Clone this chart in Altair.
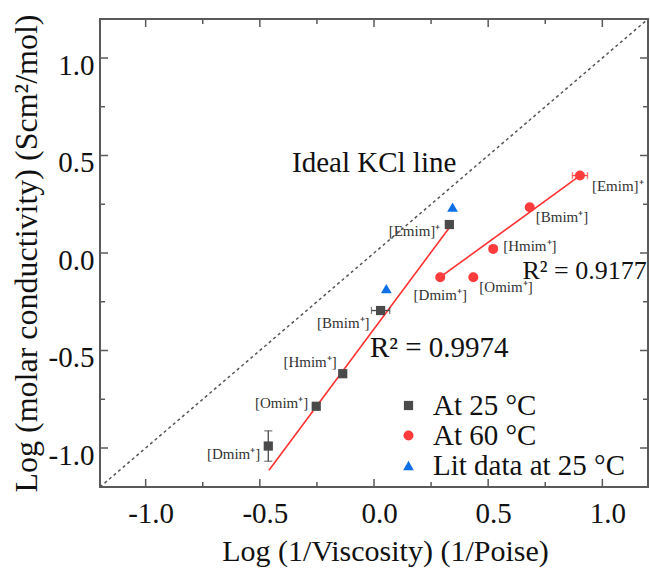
import altair as alt
import pandas as pd

# ---------------- data ----------------
series_names = ["At 25 °C", "At 60 °C", "Lit data at 25 °C"]
series_colors = ["#4a4a4a", "#ff3c3c", "#0f6fe6"]
series_shapes = ["square", "circle", "triangle-up"]

ions = ["Emim", "Bmim", "Hmim", "Omim", "Dmim"]
labels_25 = ["[Emim]⁺", "[Bmim⁺]", "[Hmim⁺]", "[Omim⁺]", "[Dmim⁺]"]
x_25 = [0.330, 0.029, -0.137, -0.253, -0.463]
y_25 = [0.146, -0.295, -0.619, -0.786, -0.990]

labels_60 = ["[Emim]⁺", "[Bmim⁺]", "[Hmim⁺]", "[Omim⁺]", "[Dmim⁺]"]
x_60 = [0.902, 0.682, 0.522, 0.435, 0.290]
y_60 = [0.397, 0.235, 0.021, -0.124, -0.124]

x_lit = [0.344, 0.054]
y_lit = [0.235, -0.183]

fit25_x = [-0.460, 0.337]
fit25_y = [-1.114, 0.141]
fit60_x = [0.290, 0.902]
fit60_y = [-0.124, 0.397]
ideal_x = [-1.2, 1.2]
ideal_y = [-1.2, 1.2]

xerr_series = ["At 25 °C", "At 60 °C"]
xerr_x = [0.029, 0.902]
xerr_y = [-0.295, 0.397]
xerr_v = [0.040, 0.033]

yerr_series = ["At 25 °C"]
yerr_x = [-0.463]
yerr_y = [-0.990]
yerr_v = [0.078]

tick_major = [-1.0, -0.5, 0.0, 0.5, 1.0]
tick_minor = [-0.75, -0.25, 0.25, 0.75]

x_title = "Log (1/Viscosity) (1/Poise)"
y_title = "Log (molar conductivity) (Scm²/mol)"
ideal_text = "Ideal KCl line"
r2_25_text = "R² = 0.9974"
r2_60_text = "R² = 0.9177"

# ---------------- styling ----------------
FONT = "Liberation Serif"
W, H = 548, 468
FRAME = "#5a5a5a"
color_of = dict(zip(series_names, series_colors))

xs = alt.Scale(domain=[-1.2, 1.2], nice=False, zero=False)
ys = alt.Scale(domain=[-1.2, 1.2], nice=False, zero=False)
lab_expr = "(datum.value < 0 ? '-' : '') + format(abs(datum.value), '.1f')"
xaxis = alt.Axis(values=tick_major, labelExpr=lab_expr, title=x_title,
                 labelPadding=12, labelOffset=5, titleFontSize=30,
                 titleX=285, titleY=73, titleBaseline="alphabetic", titleAlign="center")
yaxis = alt.Axis(values=tick_major, labelExpr=lab_expr, title=y_title,
                 labelPadding=6, labelOffset=7, titleFontSize=32,
                 titleX=-64, titleY=234, titleBaseline="alphabetic", titleAlign="center")


def X(field):
    return alt.X(field, type="quantitative", scale=xs, axis=xaxis)


def Y(field):
    return alt.Y(field, type="quantitative", scale=ys, axis=yaxis)


def XD(v):
    return alt.XDatum(v, type="quantitative", scale=xs, axis=xaxis)


def YD(v):
    return alt.YDatum(v, type="quantitative", scale=ys, axis=yaxis)


# ---------------- tables ----------------
pts = pd.DataFrame({
    "series": [series_names[0]] * len(x_25) + [series_names[1]] * len(x_60) + [series_names[2]] * len(x_lit),
    "x": x_25 + x_60 + x_lit,
    "y": y_25 + y_60 + y_lit,
})
lab25 = pd.DataFrame({"ion": ions, "x": x_25, "y": y_25, "text": labels_25})
lab60 = pd.DataFrame({"ion": ions, "x": x_60, "y": y_60, "text": labels_60})
fits = pd.DataFrame({
    "g": ["25"] * 2 + ["60"] * 2,
    "x": fit25_x + fit60_x,
    "y": fit25_y + fit60_y,
})
ideal = pd.DataFrame({"x": ideal_x, "y": ideal_y})
xerr = pd.DataFrame({"series": xerr_series, "x": xerr_x, "y": xerr_y, "e": xerr_v})
yerr = pd.DataFrame({"series": yerr_series, "x": yerr_x, "y": yerr_y, "e": yerr_v})
tmaj = pd.DataFrame({"v": tick_major})
tmin = pd.DataFrame({"v": tick_minor})

color_scale = alt.Scale(domain=series_names, range=series_colors)
shape_scale = alt.Scale(domain=series_names, range=series_shapes)
size_scale = alt.Scale(domain=series_names, range=[85, 115, 220])

layers = []

# ideal line
layers.append(alt.Chart(ideal).mark_line(color="#555555", strokeWidth=1.5, strokeDash=[3, 3])
              .encode(x=X("x"), y=Y("y")))

# fit lines
layers.append(alt.Chart(fits).mark_line(color="#ff3030", strokeWidth=1.6)
              .encode(x=X("x"), y=Y("y"), detail="g:N"))

# error bars (x)
for s in xerr_series:
    c = color_of[s]
    xe = alt.Chart(xerr).transform_filter(alt.datum.series == s).transform_calculate(
        lo="datum.x - datum.e", hi="datum.x + datum.e")
    layers.append(xe.mark_rule(strokeWidth=1.3, color=c).encode(x=X("lo:Q"), x2="hi:Q", y=Y("y")))
    layers.append(xe.mark_tick(orient="vertical", size=7, thickness=1.3, color=c).encode(x=X("lo:Q"), y=Y("y")))
    layers.append(xe.mark_tick(orient="vertical", size=7, thickness=1.3, color=c).encode(x=X("hi:Q"), y=Y("y")))

# error bars (y)
for s in yerr_series:
    c = color_of[s]
    ye = alt.Chart(yerr).transform_filter(alt.datum.series == s).transform_calculate(
        lo="datum.y - datum.e", hi="datum.y + datum.e")
    layers.append(ye.mark_rule(strokeWidth=1.3, color=c).encode(y=Y("lo:Q"), y2="hi:Q", x=X("x")))
    layers.append(ye.mark_tick(orient="horizontal", size=8, thickness=1.3, color=c).encode(y=Y("lo:Q"), x=X("x")))
    layers.append(ye.mark_tick(orient="horizontal", size=8, thickness=1.3, color=c).encode(y=Y("hi:Q"), x=X("x")))

# points (with legend)
legend = alt.Legend(title=None, orient="none", legendX=294, legendY=372,
                    labelFont=FONT, labelFontSize=29, labelColor="#111111",
                    symbolSize=150, symbolStrokeWidth=0, labelOffset=10,
                    rowPadding=-2, padding=0, labelLimit=400)
layers.append(alt.Chart(pts).mark_point(filled=True, opacity=1, strokeWidth=0).encode(
    x=X("x"), y=Y("y"),
    color=alt.Color("series:N", scale=color_scale, legend=legend),
    shape=alt.Shape("series:N", scale=shape_scale, legend=legend),
    size=alt.Size("series:N", scale=size_scale, legend=None),
))

# point labels
off25 = {"Emim": (-9, 6), "Bmim": (-11, 12), "Hmim": (-6, -12), "Omim": (-8, -3), "Dmim": (-8, 8)}
off60 = {"Emim": (12, 10, "left"), "Bmim": (6, 10, "left"), "Hmim": (10, -3, "left"),
         "Omim": (6, 10, "left"), "Dmim": (0, 18, "center")}
for ion, (dx, dy) in off25.items():
    layers.append(alt.Chart(lab25).transform_filter(alt.datum.ion == ion)
                  .mark_text(align="right", baseline="middle", dx=dx, dy=dy, font=FONT,
                             fontSize=15, color="#333333")
                  .encode(x=X("x"), y=Y("y"), text="text:N"))
for ion, (dx, dy, al) in off60.items():
    layers.append(alt.Chart(lab60).transform_filter(alt.datum.ion == ion)
                  .mark_text(align=al, baseline="middle", dx=dx, dy=dy, font=FONT,
                             fontSize=15, color="#333333")
                  .encode(x=X("x"), y=Y("y"), text="text:N"))

# annotations
for txt, ax, ay, fs in [(ideal_text, -0.359, 0.414, 29),
                        (r2_25_text, -0.018, -0.535, 29),
                        (r2_60_text, 0.650, -0.131, 26)]:
    layers.append(alt.Chart(pd.DataFrame({"t": [txt]}))
                  .mark_text(align="left", baseline="alphabetic", font=FONT, fontSize=fs, color="#111111")
                  .encode(x=XD(ax), y=YD(ay), text="t:N"))

# inward ticks on all four sides
TC = "#5a5a5a"
for df, L in [(tmaj, 8), (tmin, 5)]:
    layers.append(alt.Chart(df).mark_rule(color=TC, strokeWidth=1.5)
                  .encode(y=Y("v"), x=alt.value(0), x2=alt.value(L)))
    layers.append(alt.Chart(df).mark_rule(color=TC, strokeWidth=1.5)
                  .encode(y=Y("v"), x=alt.value(W), x2=alt.value(W - L)))
    layers.append(alt.Chart(df).mark_rule(color=TC, strokeWidth=1.5)
                  .encode(x=X("v"), y=alt.value(H), y2=alt.value(H - L)))
    layers.append(alt.Chart(df).mark_rule(color=TC, strokeWidth=1.5)
                  .encode(x=X("v"), y=alt.value(0), y2=alt.value(L)))

chart = alt.layer(*layers).properties(
    width=W, height=H,
    autosize=alt.AutoSizeParams(type="none"),
    padding={"left": 100, "top": 19, "right": 2, "bottom": 84},
    background="white",
).configure_view(
    stroke=FRAME, strokeWidth=2,
).configure_axis(
    domain=False, ticks=False, grid=False,
    labelFont=FONT, labelFontSize=29, labelColor="#111111",
    titleFont=FONT, titleFontWeight="normal", titleColor="#111111",
)

chart.save("out.html", embed_options={"renderer": "svg", "actions": False})
